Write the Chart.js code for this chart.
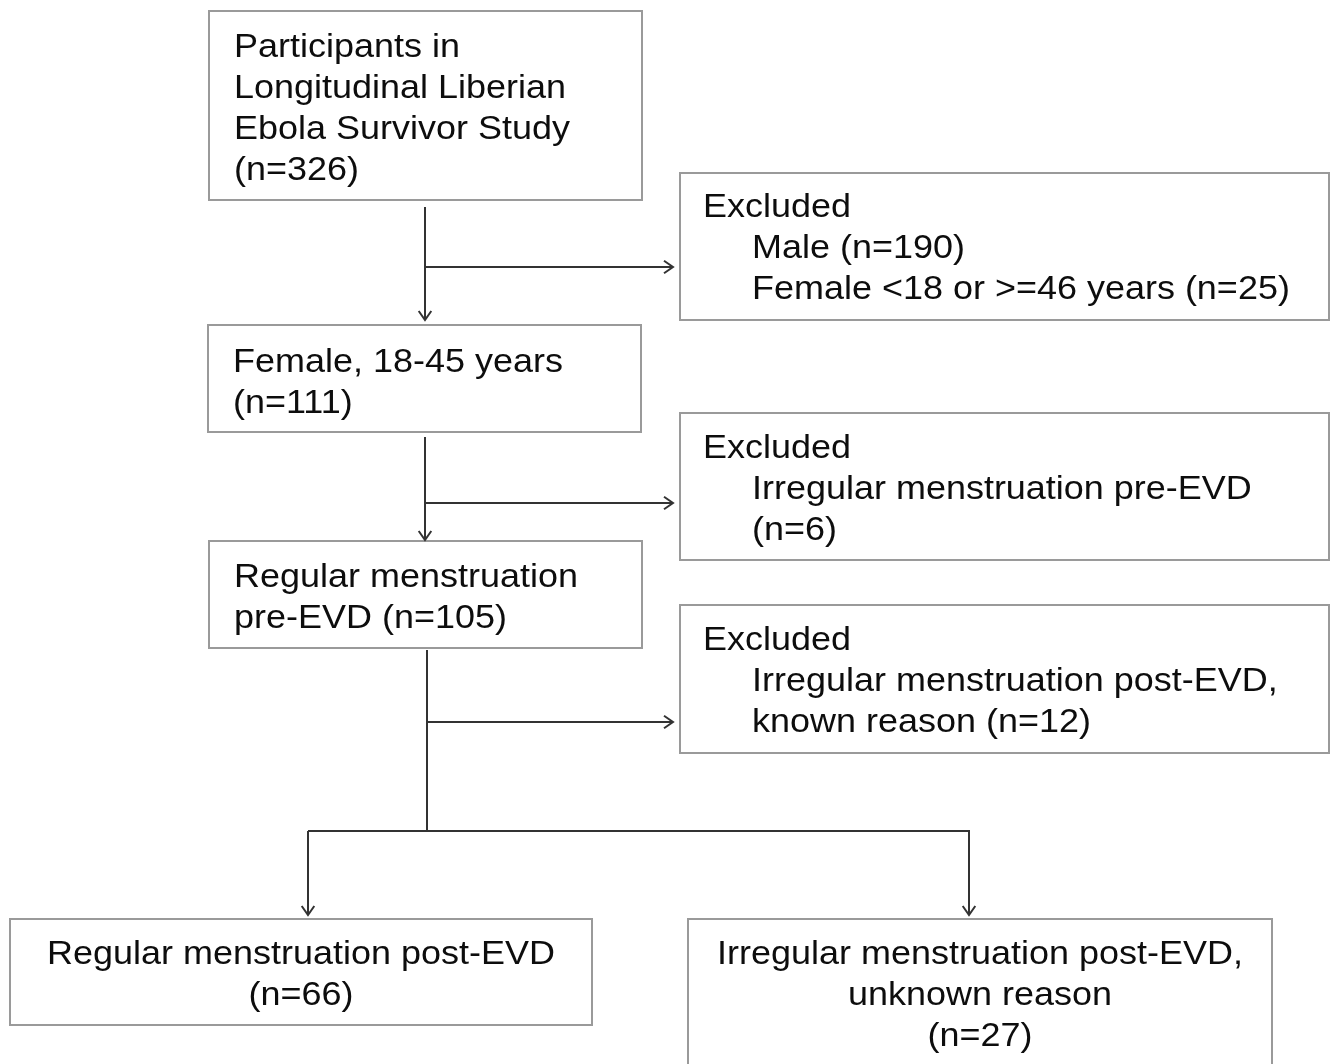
<!DOCTYPE html>
<html>
<head>
<meta charset="utf-8">
<script src="https://cdn.jsdelivr.net/npm/chart.js@4/dist/chart.umd.min.js"></script>
<style>
  body { margin: 0; background: #fff; }
  #wrap { width: 1337px; height: 1064px; }
</style>
</head>
<body>
<div id="wrap"><canvas id="flow"></canvas></div>
<script>
// Flow steps and counts
const stepLines = [
    ['Participants in', 'Longitudinal Liberian', 'Ebola Survivor Study', '(n=326)'],
    ['Female, 18-45 years', '(n=111)'],
    ['Regular menstruation', 'pre-EVD (n=105)']
];
const excludedTitle = 'Excluded';
const excludedLines = [
    ['Male (n=190)', 'Female <18 or >=46 years (n=25)'],
    ['Irregular menstruation pre-EVD', '(n=6)'],
    ['Irregular menstruation post-EVD,', 'known reason (n=12)']
];
const outcomeLines = [
    ['Regular menstruation post-EVD', '(n=66)'],
    ['Irregular menstruation post-EVD,', 'unknown reason', '(n=27)']
];

// Layout (in axis units, same as pixels)
const stepBoxes = [[209, 11, 642, 200], [208, 325, 641, 432], [209, 541, 642, 648]];
const stepBaselines = [57, 372, 587];
const exclBoxes = [[680, 173, 1329, 320], [680, 413, 1329, 560], [680, 605, 1329, 753]];
const exclBaselines = [217, 458, 650];
const outBoxes = [[10, 919, 592, 1025], [688, 919, 1272, 1080]];
const outBaselines = [964, 964];
const lineGap = 41;
const textStretch = 1.09;

function arrowHead(ctx, x, y, dir) {
    const s = 9;
    ctx.beginPath();
    if (dir === 'down') {
        ctx.moveTo(x - s * 0.7, y - s); ctx.lineTo(x, y); ctx.lineTo(x + s * 0.7, y - s);
    } else {
        ctx.moveTo(x - s, y - s * 0.7); ctx.lineTo(x, y); ctx.lineTo(x - s, y + s * 0.7);
    }
    ctx.stroke();
}

// the source text is a bit wider than plain Arial, so stretch it
function wideText(ctx, t, x, y, align) {
    ctx.save();
    ctx.translate(x, y);
    ctx.scale(textStretch, 1);
    ctx.textAlign = align;
    ctx.fillText(t, 0, 0);
    ctx.restore();
}

const flowPlugin = {
    id: 'flow',
    afterDraw(chart) {
        const ctx = chart.ctx;
        const X = v => chart.scales.x.getPixelForValue(v);
        const Y = v => chart.scales.y.getPixelForValue(v);
        ctx.save();

        // boxes
        ctx.strokeStyle = '#9a9a9a';
        ctx.lineWidth = 2;
        [...stepBoxes, ...exclBoxes, ...outBoxes].forEach(b => {
            ctx.strokeRect(X(b[0]), Y(b[1]), X(b[2]) - X(b[0]), Y(b[3]) - Y(b[1]));
        });

        // text
        ctx.fillStyle = '#0d0d0d';
        ctx.font = '33px "Liberation Sans", Arial, sans-serif';
        ctx.textBaseline = 'alphabetic';
        stepLines.forEach((lines, i) => {
            lines.forEach((t, j) => wideText(ctx, t, X(stepBoxes[i][0] + 25), Y(stepBaselines[i] + j * lineGap), 'left'));
        });
        excludedLines.forEach((lines, i) => {
            wideText(ctx, excludedTitle, X(exclBoxes[i][0] + 23), Y(exclBaselines[i]), 'left');
            lines.forEach((t, j) => wideText(ctx, t, X(exclBoxes[i][0] + 72), Y(exclBaselines[i] + (j + 1) * lineGap), 'left'));
        });
        outcomeLines.forEach((lines, i) => {
            const cx = (outBoxes[i][0] + outBoxes[i][2]) / 2;
            lines.forEach((t, j) => wideText(ctx, t, X(cx), Y(outBaselines[i] + j * lineGap), 'center'));
        });

        // connectors
        ctx.strokeStyle = '#333';
        ctx.lineWidth = 2;
        const seg = (x0, y0, x1, y1) => {
            ctx.beginPath(); ctx.moveTo(X(x0), Y(y0)); ctx.lineTo(X(x1), Y(y1)); ctx.stroke();
        };
        const trunkX = [425, 425, 427];
        const trunkTop = [207, 437, 650];
        const branchY = [267, 503, 722];
        const trunkEnd = [320, 540];
        for (let i = 0; i < 3; i++) {
            if (i < 2) {
                seg(trunkX[i], trunkTop[i], trunkX[i], trunkEnd[i]);
                arrowHead(ctx, X(trunkX[i]), Y(trunkEnd[i]), 'down');
            } else {
                seg(trunkX[i], trunkTop[i], trunkX[i], 831);
            }
            seg(trunkX[i], branchY[i], 673, branchY[i]);
            arrowHead(ctx, X(673), Y(branchY[i]), 'right');
        }
        seg(308, 831, 970, 831);
        seg(308, 831, 308, 915);
        seg(969, 831, 969, 915);
        arrowHead(ctx, X(308), Y(915), 'down');
        arrowHead(ctx, X(969), Y(915), 'down');
        ctx.restore();
    }
};

new Chart(document.getElementById('flow'), {
    type: 'scatter',
    data: { datasets: [{ data: [], pointRadius: 0 }] },
    options: {
        responsive: true,
        maintainAspectRatio: false,
        animation: false,
        layout: { padding: 0 },
        plugins: { legend: { display: false }, tooltip: { enabled: false } },
        scales: {
            x: { type: 'linear', min: 0, max: 1337, display: false },
            y: { type: 'linear', min: 0, max: 1064, reverse: true, display: false }
        }
    },
    plugins: [flowPlugin]
});
</script>
</body>
</html>
